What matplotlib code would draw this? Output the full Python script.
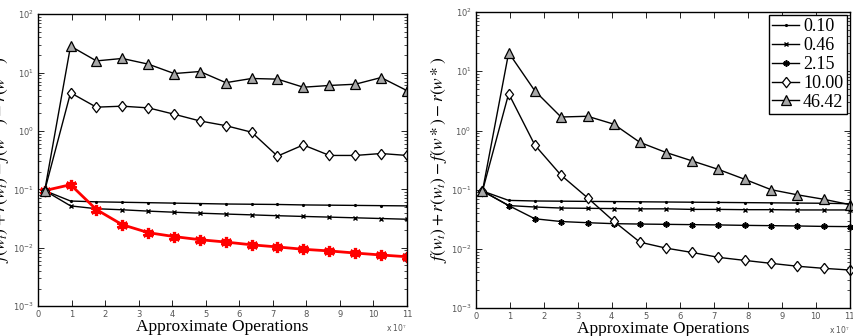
import numpy as np
import matplotlib.pyplot as plt

plt.rcParams['mathtext.fontset'] = 'stix'
plt.rcParams['font.family'] = 'DejaVu Sans'

# approximate operations (units of 1e7)
ops = [0.2, 0.97, 1.74, 2.51, 3.29, 4.06, 4.83, 5.6, 6.37, 7.14, 7.91, 8.69, 9.46, 10.23, 11.0]
labels = ['0.10', '0.46', '2.15', '10.00', '46.42']

# left panel
left_010 = [0.095, 0.063, 0.061, 0.060, 0.059, 0.058, 0.057, 0.056, 0.0555, 0.055, 0.054, 0.0535, 0.053, 0.0525, 0.052]
left_046 = [0.095, 0.052, 0.0465, 0.0446, 0.0423, 0.0405, 0.039, 0.0377, 0.0365, 0.0353, 0.0343, 0.0334, 0.0325, 0.0316, 0.0307]
left_215 = [0.095, 0.12, 0.045, 0.0248, 0.0181, 0.0155, 0.0137, 0.0125, 0.0112, 0.0103, 0.0094, 0.0088, 0.0081, 0.0075, 0.0070]
left_1000 = [0.095, 4.5, 2.55, 2.65, 2.48, 1.93, 1.48, 1.23, 0.95, 0.37, 0.575, 0.38, 0.38, 0.41, 0.38]
left_4642 = [0.095, 28.3, 15.8, 17.4, 13.9, 9.6, 10.4, 6.7, 7.9, 7.7, 5.6, 6.0, 6.3, 8.2, 4.9]

# right panel
right_010 = [0.095, 0.066, 0.0645, 0.064, 0.0635, 0.063, 0.0625, 0.062, 0.0615, 0.061, 0.0605, 0.060, 0.0595, 0.059, 0.058]
right_046 = [0.095, 0.054, 0.051, 0.049, 0.0485, 0.048, 0.0475, 0.0475, 0.0465, 0.0465, 0.046, 0.046, 0.0455, 0.0455, 0.0455]
right_215 = [0.095, 0.054, 0.0323, 0.029, 0.0277, 0.0267, 0.0263, 0.026, 0.0257, 0.0254, 0.025, 0.0247, 0.0244, 0.024, 0.0238]
right_1000 = [0.095, 4.2, 0.567, 0.176, 0.073, 0.0294, 0.013, 0.0103, 0.0087, 0.0072, 0.0064, 0.0057, 0.0051, 0.0047, 0.0044]
right_4642 = [0.095, 20.6, 4.67, 1.69, 1.74, 1.28, 0.63, 0.425, 0.306, 0.22, 0.150, 0.100, 0.082, 0.069, 0.056]

asterisk = (6, 2, 0)
diamond = [(0, 1), (0.78, 0), (0, -1), (-0.78, 0), (0, 1)]
styles = [
    dict(color='k', marker='.', ms=2.5, lw=1.0),
    dict(color='k', marker='x', ms=3.5, mew=1.0, lw=1.0),
    dict(color='k', marker=asterisk, ms=4.5, mew=1.2, lw=1.0),
    dict(color='k', marker=diamond, ms=7.5, mfc='white', mec='k', mew=0.9, lw=1.0),
    dict(color='k', marker='^', ms=6.5, mfc='#a8a8a8', mec='k', mew=0.9, lw=1.0),
]

fig = plt.figure(figsize=(8.54, 3.36), dpi=100)
ax1 = fig.add_axes([0.0445, 0.089, 0.432, 0.869])
ax2 = fig.add_axes([0.557, 0.083, 0.438, 0.881])

ylab = r"$f(w_t) + r(w_t) - f(w*) - r(w*)$"

def setup(ax):
    ax.set_yscale('log')
    ax.set_xlim(0, 11)
    ax.set_ylim(1e-3, 1e2)
    ax.set_xticks(range(12))
    ax.tick_params(which='both', direction='in', top=True, right=True,
                   labelsize=6, labelcolor='#555555')
    ax.tick_params(which='major', length=4, width=0.6, pad=3)
    ax.tick_params(which='minor', length=2, width=0.5)
    for s in ax.spines.values():
        s.set_linewidth(1.0)
    ax.set_xlabel('Approximate Operations', family='Liberation Serif', fontsize=12.5, labelpad=0)
    ax.set_ylabel(ylab, fontsize=12.5, labelpad=1)
    ax.text(1.0, -0.055, r'x 10$^{7}$', transform=ax.transAxes, ha='right', va='top',
            fontsize=5.5, color='#555555')

# left
ax1.plot(ops, left_010, **styles[0])
ax1.plot(ops, left_046, **styles[1])
ax1.plot(ops, left_215, color='red', marker=asterisk, ms=8, mew=2.3, lw=2.0)
ax1.plot(ops, left_1000, **styles[3])
ax1.plot(ops, left_4642, **styles[4])
setup(ax1)

# right
for vals, st, lab in zip([right_010, right_046, right_215, right_1000, right_4642], styles, labels):
    ax2.plot(ops, vals, label=lab, clip_on=False, **st)
setup(ax2)
leg = ax2.legend(loc='upper right', prop={'family': 'Liberation Serif', 'size': 13},
                 handlelength=1.5, handletextpad=0.2, labelspacing=0.1,
                 borderpad=0.2, fancybox=False, framealpha=1, edgecolor='k',
                 borderaxespad=0.15)
leg.get_frame().set_linewidth(1.0)

fig.savefig('out.png', dpi=100)
